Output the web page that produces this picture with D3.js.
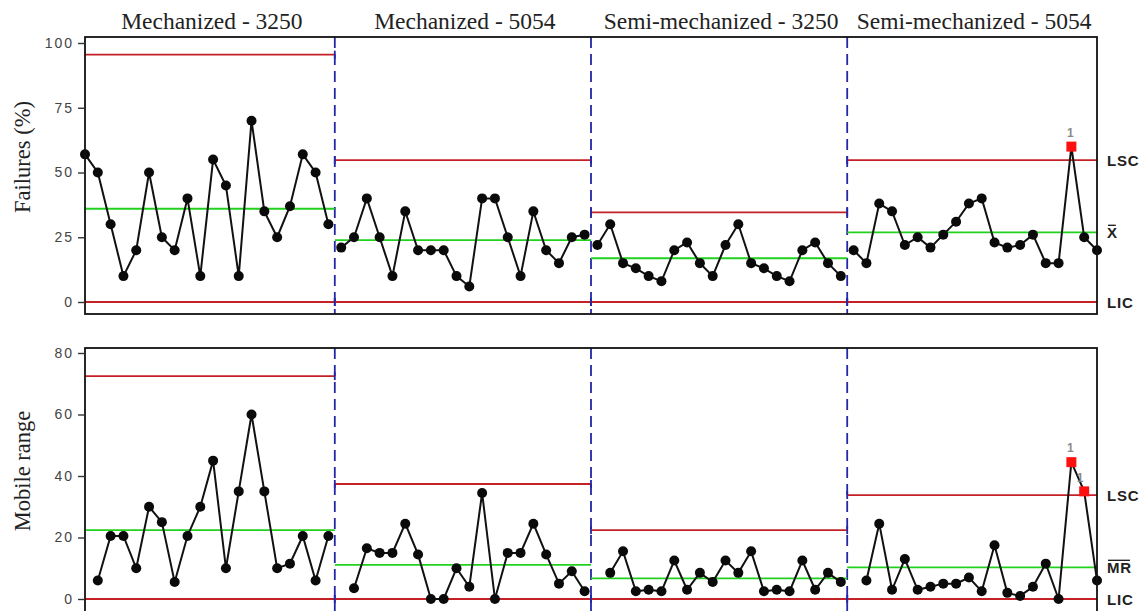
<!DOCTYPE html>
<html>
<head>
<meta charset="utf-8">
<script src="https://cdn.jsdelivr.net/npm/d3@7"></script>
<style>
  html, body { margin: 0; padding: 0; background: #fff; }
  svg { display: block; }
</style>
</head>
<body>
<svg id="chart" width="1146" height="611"></svg>
<script>
// ---------------- data ----------------
const stages = ["Mechanized - 3250", "Mechanized - 5054", "Semi-mechanized - 3250", "Semi-mechanized - 5054"];
const pointsPerStage = 20;

const failures = [
  57, 50, 30, 10, 20, 50, 25, 20, 40, 10, 55, 45, 10, 70, 35, 25, 37, 57, 50, 30,
  21, 25, 40, 25, 10, 35, 20, 20, 20, 10, 6, 40, 40, 25, 10, 35, 20, 15, 25, 26,
  22, 30, 15, 13, 10, 8, 20, 23, 15, 10, 22, 30, 15, 13, 10, 8, 20, 23, 15, 10,
  20, 15, 38, 35, 22, 25, 21, 26, 31, 38, 40, 23, 21, 22, 26, 15, 15, 60, 25, 20
];

// moving range (first observation of each stage has none)
const mobileRange = [
  null, 6, 20.5, 20.5, 10, 30, 25, 5.5, 20.5, 30, 45, 10, 35, 60, 35, 10, 11.5, 20.5, 6, 20.5,
  null, 3.5, 16.5, 15, 15, 24.5, 14.5, 0, 0, 10, 4, 34.5, 0, 15, 15, 24.5, 14.5, 5, 9, 2.5,
  null, 8.5, 15.5, 2.5, 3, 2.5, 12.5, 3, 8.5, 5.5, 12.5, 8.5, 15.5, 2.5, 3, 2.5, 12.5, 3, 8.5, 5.5,
  null, 6, 24.5, 3, 13, 3, 4, 5, 5, 7, 2.5, 17.5, 2, 1, 4, 11.5, 0, 44.5, 35, 6
];

const xMean = [36.0, 23.9, 16.9, 26.9];
const xUCL  = [95.5, 54.8, 34.6, 54.8];
const xLCL  = [0, 0, 0, 0];
const mrMean = [22.4, 11.1, 6.7, 10.3];
const mrUCL  = [72.5, 37.4, 22.4, 33.8];
const mrLCL  = [0, 0, 0, 0];

const failuresFlags = [78];       // observation numbers flagged (test 1)
const mobileRangeFlags = [78, 79];

const failuresTicks = [0, 25, 50, 75, 100];
const mobileRangeTicks = [0, 20, 40, 60, 80];

// ---------------- layout ----------------
const svg = d3.select("#chart");
const left = 85, right = 1097;
const nObs = failures.length;

const x = d3.scaleLinear().domain([1, nObs]).range([left, right]);

const panels = [
  { values: failures, mean: xMean, ucl: xUCL, lcl: xLCL, flags: failuresFlags,
    ticks: failuresTicks, domain: [0, 100], range: [302, 43], boxTop: 37, boxBottom: 314,
    title: "Failures (%)", titleY: 157, meanLabel: "X" },
  { values: mobileRange, mean: mrMean, ucl: mrUCL, lcl: mrLCL, flags: mobileRangeFlags,
    ticks: mobileRangeTicks, domain: [0, 80], range: [599, 353], boxTop: 348, boxBottom: 640,
    title: "Mobile range", titleY: 471, meanLabel: "MR" }
];

const RED = "#c42026", GREEN = "#22d11e", BLUE = "#2327a8";

const stageStart = s => Math.max(1, s * pointsPerStage + 0.5);
const stageEnd = s => Math.min(nObs, (s + 1) * pointsPerStage + 0.5);

// Stage titles
svg.selectAll("text.stage")
  .data(stages)
  .join("text")
  .attr("class", "stage")
  .attr("x", (d, i) => (x(stageStart(i)) + x(stageEnd(i))) / 2 + 2)
  .attr("y", 29)
  .attr("text-anchor", "middle")
  .attr("font-family", "'Liberation Serif', 'Times New Roman', serif")
  .attr("font-size", 23.5)
  .attr("fill", "#222")
  .text(d => d);

panels.forEach((p, pi) => {
  const y = d3.scaleLinear().domain(p.domain).range(p.range);
  const g = svg.append("g");

  const clipId = "clip" + pi;
  svg.append("defs").append("clipPath").attr("id", clipId)
    .append("rect").attr("x", left - 6).attr("y", p.boxTop)
    .attr("width", right - left + 12).attr("height", p.boxBottom - p.boxTop);

  const content = g.append("g").attr("clip-path", `url(#${clipId})`);

  // stage boundaries (blue dashed)
  for (let s = 1; s < stages.length; s++) {
    content.append("line")
      .attr("x1", x(stageStart(s))).attr("x2", x(stageStart(s)))
      .attr("y1", p.boxTop).attr("y2", p.boxBottom)
      .attr("stroke", BLUE).attr("stroke-width", 1.8)
      .attr("stroke-dasharray", "11,6");
  }

  // control limits and center lines
  stages.forEach((st, s) => {
    const x1 = x(stageStart(s)), x2 = x(stageEnd(s));
    [[p.ucl[s], RED], [p.lcl[s], RED], [p.mean[s], GREEN]].forEach(([v, c]) => {
      content.append("line")
        .attr("x1", x1).attr("x2", x2)
        .attr("y1", y(v)).attr("y2", y(v))
        .attr("stroke", c).attr("stroke-width", 1.8);
    });
    [p.ucl[s], p.lcl[s]].forEach(v => {
      [x1, x2].forEach((xx, k) => {
        if ((k === 0 && s === 0) || (k === 1 && s === stages.length - 1)) return;
        content.append("line")
          .attr("x1", xx).attr("x2", xx)
          .attr("y1", y(v) - 4).attr("y2", y(v) + 4)
          .attr("stroke", BLUE).attr("stroke-width", 1.8);
      });
    });
  });

  // data lines, per stage
  const line = d3.line()
    .defined(d => d.v !== null)
    .x(d => x(d.i)).y(d => y(d.v));
  stages.forEach((st, s) => {
    const seg = p.values.slice(s * pointsPerStage, (s + 1) * pointsPerStage)
      .map((v, k) => ({ i: s * pointsPerStage + k + 1, v }));
    content.append("path")
      .datum(seg)
      .attr("d", line)
      .attr("fill", "none").attr("stroke", "#111").attr("stroke-width", 2);
  });

  const pts = p.values.map((v, k) => ({ i: k + 1, v })).filter(d => d.v !== null);
  const normal = pts.filter(d => !p.flags.includes(d.i));
  const flagged = pts.filter(d => p.flags.includes(d.i));

  content.selectAll("circle.pt")
    .data(normal)
    .join("circle")
    .attr("class", "pt")
    .attr("cx", d => x(d.i)).attr("cy", d => y(d.v))
    .attr("r", 5).attr("fill", "#0a0a0a");

  content.selectAll("rect.flag")
    .data(flagged)
    .join("rect")
    .attr("class", "flag")
    .attr("x", d => x(d.i) - 5).attr("y", d => y(d.v) - 5)
    .attr("width", 10).attr("height", 10)
    .attr("fill", "#ff1010");

  content.selectAll("text.flag")
    .data(flagged)
    .join("text")
    .attr("class", "flag")
    .attr("x", (d, k) => x(d.i) - (k === 1 ? 4 : 1))
    .attr("y", (d, k) => y(d.v) - (k === 1 ? 9 : 10))
    .attr("text-anchor", "middle")
    .attr("font-family", "'Liberation Sans', Arial, sans-serif")
    .attr("font-size", 12).attr("font-weight", "bold")
    .attr("fill", "#8a8a8a")
    .text("1");

  // box
  g.append("rect")
    .attr("x", left).attr("y", p.boxTop)
    .attr("width", right - left).attr("height", p.boxBottom - p.boxTop)
    .attr("fill", "none").attr("stroke", "#111").attr("stroke-width", 1.8);

  // y axis
  const axis = d3.axisLeft(y).tickValues(p.ticks).tickSize(7).tickPadding(4);
  const ag = g.append("g").attr("transform", `translate(${left},0)`).call(axis);
  ag.select(".domain").remove();
  ag.selectAll(".tick line").attr("stroke", "#333").attr("stroke-width", 1.4);
  ag.selectAll(".tick text")
    .attr("font-family", "'Liberation Sans', Arial, sans-serif")
    .attr("font-size", 14).attr("letter-spacing", 2).attr("fill", "#444");

  // axis title
  g.append("text")
    .attr("transform", `translate(30,${p.titleY}) rotate(-90)`)
    .attr("text-anchor", "middle")
    .attr("font-family", "'Liberation Serif', 'Times New Roman', serif")
    .attr("font-size", 22.5).attr("fill", "#222")
    .text(p.title);

  // right-hand labels
  const last = stages.length - 1;
  const lab = (txt, v) => g.append("text")
    .attr("x", 1107).attr("y", y(v) + 5.5)
    .attr("font-family", "'Liberation Sans', Arial, sans-serif")
    .attr("font-size", 15).attr("font-weight", "bold").attr("letter-spacing", 0.8)
    .attr("fill", "#222")
    .text(txt);
  lab("LSC", p.ucl[last]);
  lab("LIC", p.lcl[last]);
  const ml = lab(p.meanLabel, p.mean[last]);
  const bb = ml.node().getBBox();
  g.append("line")
    .attr("x1", bb.x + 1).attr("x2", bb.x + bb.width - 2)
    .attr("y1", bb.y + 1.5).attr("y2", bb.y + 1.5)
    .attr("stroke", "#222").attr("stroke-width", 1.4);
});
</script>
</body>
</html>
